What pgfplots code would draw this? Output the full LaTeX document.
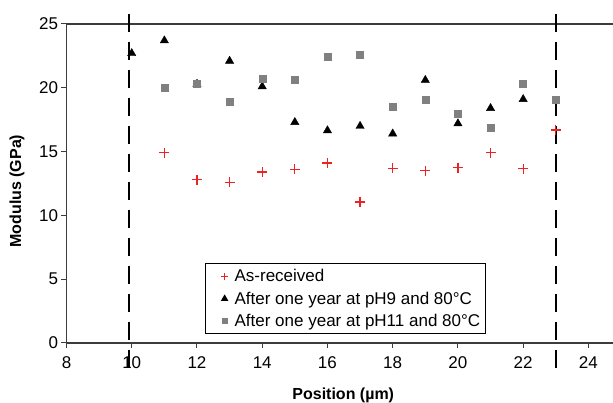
\documentclass[border=0pt]{standalone}
\usepackage{fontspec}
\setmainfont{Liberation Sans}
\usepackage{pgfplots}
\pgfplotsset{compat=1.18}
\definecolor{asrec}{RGB}{235,35,35}
\definecolor{phgray}{RGB}{128,128,128}
\definecolor{axgray}{RGB}{60,60,60}

\begin{document}
\begin{tikzpicture}
\begin{axis}[name=ax,scale only axis,width=548pt,height=319pt,
 xmin=8,xmax=24.8,ymin=0,ymax=25,
 xtick={8,10,...,24},ytick={0,5,...,25},
 tick align=outside,xtick pos=bottom,ytick pos=left,major tick length=5pt,
 axis line style={axgray,line width=1.2pt},tick style={axgray,line width=1pt},
 /pgf/number format/assume math mode=true,
 tick label style={font=\fontsize{17}{20}\selectfont},
 xticklabel style={yshift=-5pt},
 xlabel={\bfseries Position (µm)},ylabel={\bfseries Modulus (GPa)},
 label style={font=\fontsize{16}{18}\selectfont},
 xlabel style={at={(axis description cs:0.505,-0.165)},anchor=center},
 ylabel style={at={(axis description cs:-0.0903,0.476)},anchor=center},
 clip=false,
 legend style={at={(axis cs:12.25,6.27)},anchor=north west,draw=black,line width=1pt,
  font=\fontsize{17}{19}\selectfont,legend cell align=left,row sep=4.5pt,
  inner xsep=3pt,inner ysep=4pt},
 legend image code/.code={\path[draw=none] (0pt,0pt) -- (24pt,0pt);
  \draw[#1,every mark/.append style={scale=0.7}] plot coordinates {(16pt,0pt)};}]
\addplot[only marks,mark=+,mark size=5pt,color=asrec,mark options={line width=1.2pt}] coordinates {
 (11,14.9) (12,12.8) (13,12.6) (14,13.4) (15,13.6) (16,14.1) (17,11.05)
 (18,13.7) (19,13.5) (20,13.75) (21,14.9) (22,13.65) (23,16.7)};
\addlegendentry{As-received}
\addplot[only marks,mark=triangle*,mark size=4.8pt,color=black] coordinates {
 (10,22.7) (11,23.7) (12,20.3) (13,22.1) (14,20.1) (15,17.3) (16,16.65)
 (17,17.0) (18,16.4) (19,20.6) (20,17.2) (21,18.4) (22,19.1)};
\addlegendentry{After one year at pH9 and 80°C}
\addplot[only marks,mark=square*,mark size=3.5pt,color=phgray] coordinates {
 (11,20.0) (12,20.3) (13,18.9) (14,20.7) (15,20.6) (16,22.4) (17,22.6)
 (18,18.5) (19,19.05) (20,18.0) (21,16.9) (22,20.3) (23,19.1)};
\addlegendentry{After one year at pH11 and 80°C}
\draw[black,line width=2.5pt,dash pattern=on 18pt off 10pt] (axis cs:9.92,25.8) -- (axis cs:9.92,-2.1);
\draw[black,line width=2.5pt,dash pattern=on 18pt off 10pt] (axis cs:23,25.8) -- (axis cs:23,-2.1);
\end{axis}
\pgfresetboundingbox
\path ([shift={(-66.5pt,-60pt)}]ax.south west) rectangle ([shift={(-1.5pt,24pt)}]ax.north east);
\end{tikzpicture}
\end{document}
